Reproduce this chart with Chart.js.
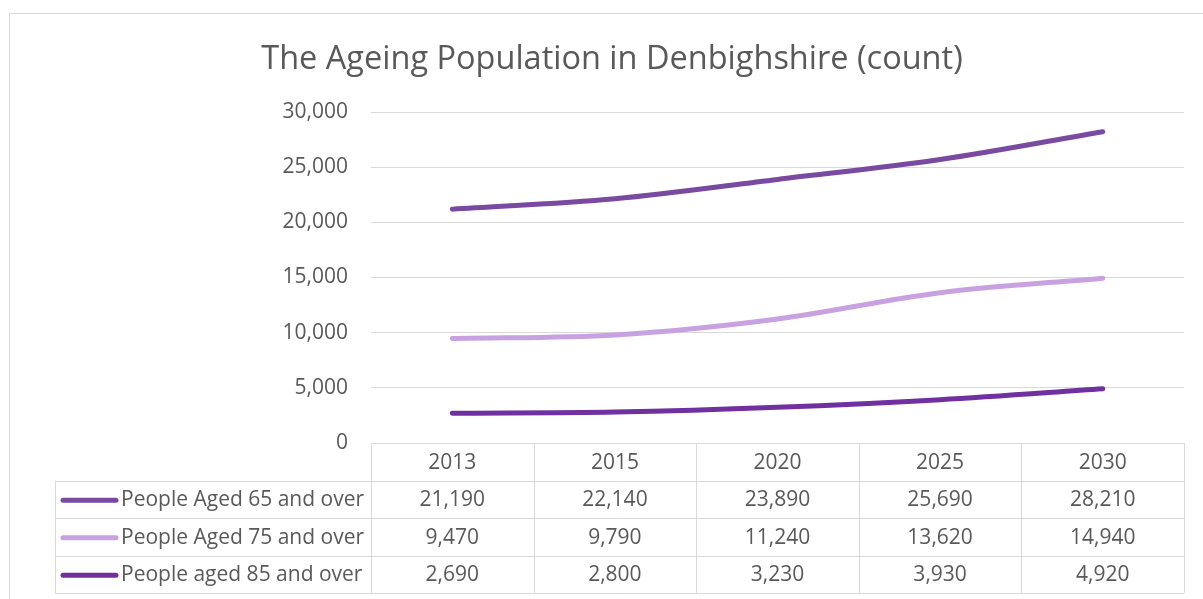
<!DOCTYPE html>
<html>
<head>
<meta charset="utf-8">
<script src="https://cdn.jsdelivr.net/npm/chart.js@4/dist/chart.umd.min.js"></script>
<style>
  html, body { margin: 0; padding: 0; background: #fff; }
  #wrap { width: 1203px; height: 599px; position: relative; }
</style>
</head>
<body>
<div id="wrap"><canvas id="popChart"></canvas></div>
<script>
const years = ['2013', '2015', '2020', '2025', '2030'];
const seriesNames = ['People Aged 65 and over', 'People Aged 75 and over', 'People aged 85 and over'];
const aged65 = [21190, 22140, 23890, 25690, 28210];
const aged75 = [9470, 9790, 11240, 13620, 14940];
const aged85 = [2690, 2800, 3230, 3930, 4920];
const yTicks = [0, 5000, 10000, 15000, 20000, 25000, 30000];

const colors = ['#7a4aa0', '#c8a2e0', '#7030a0'];
const gridColor = '#d9d9d9';
const textColor = '#595959';
const fontFamily = '"Open Sans", sans-serif';

// frame round the whole chart, like the Excel chart border
const framePlugin = {
    id: 'frame',
    beforeDraw(chart) {
        const ctx = chart.ctx;
        ctx.save();
        ctx.fillStyle = '#fff';
        ctx.fillRect(0, 0, chart.width, chart.height);
        ctx.strokeStyle = gridColor;
        ctx.lineWidth = 1;
        ctx.strokeRect(9.5, 13.5, chart.width + 20, chart.height + 20);
        ctx.restore();
    },
};

// data table under the plot, columns taken from the x scale
const tablePlugin = {
    id: 'dataTable',
    afterDraw(chart) {
        const ctx = chart.ctx;
        const x = chart.scales.x;
        const area = chart.chartArea;
        const n = years.length;
        const colW = (area.right - area.left) / n;
        const rowH = 37.5;
        const top = area.bottom;
        const labelLeft = 55;
        const bottom = top + rowH * 4;

        ctx.save();
        ctx.strokeStyle = gridColor;
        ctx.lineWidth = 1;
        ctx.beginPath();
        // header top
        ctx.moveTo(area.left, Math.round(top) + 0.5);
        ctx.lineTo(area.right, Math.round(top) + 0.5);
        for (let r = 1; r <= 4; r++) {
            const yy = Math.round(top + rowH * r) + 0.5;
            ctx.moveTo(labelLeft, yy);
            ctx.lineTo(area.right, yy);
        }
        for (let c = 0; c <= n; c++) {
            const xx = Math.round(area.left + colW * c) + 0.5;
            ctx.moveTo(xx, top);
            ctx.lineTo(xx, bottom);
        }
        ctx.moveTo(labelLeft + 0.5, top + rowH);
        ctx.lineTo(labelLeft + 0.5, bottom);
        ctx.stroke();

        ctx.fillStyle = textColor;
        ctx.font = '21px ' + fontFamily;
        ctx.textBaseline = 'middle';
        ctx.textAlign = 'center';
        years.forEach((yr, i) => {
            ctx.fillText(yr, x.getPixelForValue(i), top + rowH / 2 + 1);
        });

        chart.data.datasets.forEach((ds, r) => {
            const cy = top + rowH * (r + 1.5) + 1;
            ctx.strokeStyle = ds.borderColor;
            ctx.lineWidth = 5;
            ctx.lineCap = 'round';
            ctx.beginPath();
            ctx.moveTo(63, cy);
            ctx.lineTo(116, cy);
            ctx.stroke();

            ctx.fillStyle = textColor;
            ctx.textAlign = 'left';
            ctx.fillText(ds.label, 121, cy);
            ctx.textAlign = 'center';
            ds.data.forEach((v, i) => {
                ctx.fillText(v.toLocaleString('en-US'), x.getPixelForValue(i), cy);
            });
        });
        ctx.restore();
    },
};

const seriesData = [aged65, aged75, aged85];

new Chart(document.getElementById('popChart'), {
    type: 'line',
    data: {
        labels: years,
        datasets: seriesNames.map((name, i) => ({
            label: name,
            data: seriesData[i],
            borderColor: colors[i],
            backgroundColor: colors[i],
            borderWidth: 5,
            borderCapStyle: 'round',
            pointRadius: 0,
            pointHoverRadius: 0,
            cubicInterpolationMode: 'monotone',
            fill: false,
        })),
    },
    options: {
        responsive: true,
        maintainAspectRatio: false,
        animation: false,
        layout: { padding: { top: 0, left: 21, right: 0, bottom: 0 } },
        plugins: {
            legend: { display: false },
            tooltip: { enabled: false },
            title: {
                display: true,
                text: 'The Ageing Population in Denbighshire (count)',
                color: textColor,
                font: { family: fontFamily, size: 32.5, weight: 'normal', lineHeight: 1.2 },
                padding: { top: 40, bottom: 33 },
            },
        },
        scales: {
            x: {
                type: 'category',
                offset: true,
                grid: { display: false },
                border: { display: false },
                ticks: { display: false },
                afterFit(scale) { scale.height = 156; },
            },
            y: {
                min: 0,
                max: 30000,
                afterBuildTicks(scale) { scale.ticks = yTicks.map((v) => ({ value: v })); },
                grid: { color: gridColor, drawTicks: false },
                border: { display: false },
                ticks: {
                    color: textColor,
                    padding: 23,
                    font: { family: fontFamily, size: 21 },
                    callback: (v) => v.toLocaleString('en-US'),
                },
                afterFit(scale) { scale.width = 350; },
            },
            y2: {
                position: 'right',
                grid: { display: false },
                border: { display: false },
                ticks: { display: false },
                afterFit(scale) { scale.width = 19; },
            },
        },
    },
    plugins: [framePlugin, tablePlugin],
});
</script>
</body>
</html>
